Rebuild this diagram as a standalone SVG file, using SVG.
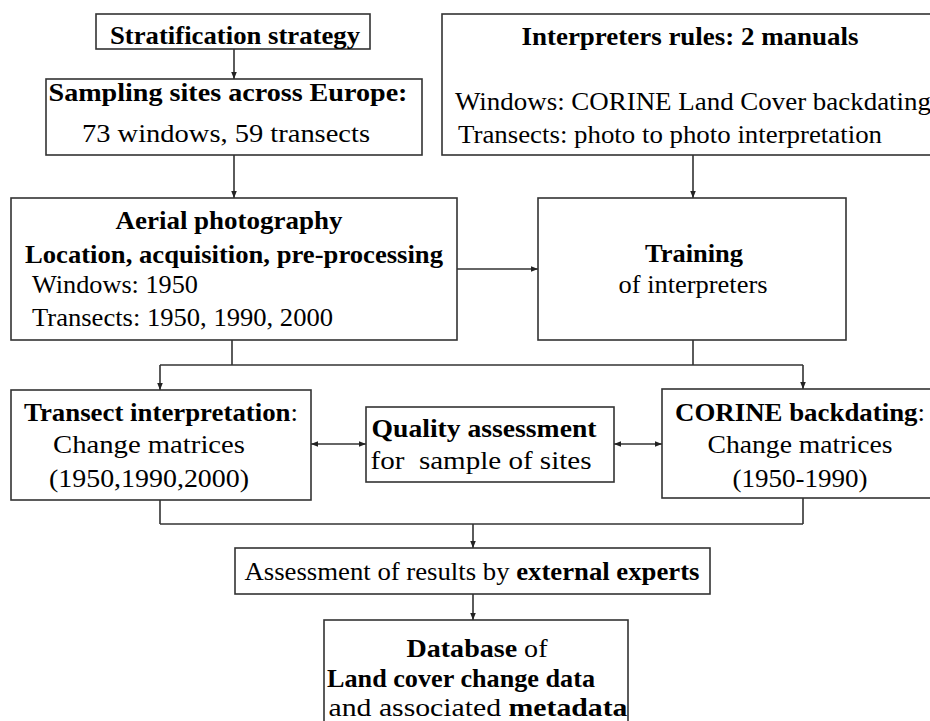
<svg xmlns="http://www.w3.org/2000/svg" width="930" height="721" viewBox="0 0 930 721" font-family="'Liberation Serif', 'Times New Roman', 'DejaVu Serif', serif">
<style>
.box{fill:#fff;stroke:#333;stroke-width:1.6}
.ln{fill:none;stroke:#333;stroke-width:1.6}
.t{font-family:'Liberation Serif','Times New Roman','DejaVu Serif',serif;font-size:25px;fill:#000}
.b{font-weight:bold}
.c{text-anchor:middle}
</style>
<defs>
<marker id="ah" viewBox="0 0 10 10" refX="10" refY="5" markerWidth="7" markerHeight="7" markerUnits="userSpaceOnUse" orient="auto-start-reverse">
<path d="M0,1 L10,5 L0,9 z" fill="#222"/>
</marker>
</defs>
<rect width="930" height="721" fill="#fff"/>
<g id="connectors">
<line class="ln" x1="234" y1="49" x2="234" y2="79" marker-end="url(#ah)"/>
<line class="ln" x1="234" y1="155" x2="234" y2="198" marker-end="url(#ah)"/>
<line class="ln" x1="693" y1="155" x2="693" y2="198" marker-end="url(#ah)"/>
<line class="ln" x1="457" y1="269" x2="538" y2="269" marker-end="url(#ah)"/>
<line class="ln" x1="232" y1="340" x2="232" y2="365"/>
<line class="ln" x1="693" y1="340" x2="693" y2="365"/>
<line class="ln" x1="160" y1="365" x2="803" y2="365"/>
<line class="ln" x1="160" y1="365" x2="160" y2="390" marker-end="url(#ah)"/>
<line class="ln" x1="803" y1="365" x2="803" y2="389" marker-end="url(#ah)"/>
<line class="ln" x1="311" y1="444" x2="366" y2="444" marker-start="url(#ah)" marker-end="url(#ah)"/>
<line class="ln" x1="614" y1="444" x2="662" y2="444" marker-start="url(#ah)" marker-end="url(#ah)"/>
<line class="ln" x1="160" y1="500" x2="160" y2="524"/>
<line class="ln" x1="803" y1="498" x2="803" y2="524"/>
<line class="ln" x1="160" y1="524" x2="803" y2="524"/>
<line class="ln" x1="473" y1="524" x2="473" y2="548" marker-end="url(#ah)"/>
<line class="ln" x1="473" y1="594" x2="473" y2="620" marker-end="url(#ah)"/>
</g>
<g id="stratification">
<rect class="box" x="96" y="14" width="274" height="35"/>
<text class="t b c" x="235" y="44" textLength="250" lengthAdjust="spacingAndGlyphs">Stratification strategy</text>
</g>
<g id="sampling">
<rect class="box" x="46" y="79" width="376" height="76"/>
<text class="t b c" x="228" y="101" textLength="359" lengthAdjust="spacingAndGlyphs">Sampling sites across Europe:</text>
<text class="t c" x="226" y="142" textLength="288" lengthAdjust="spacingAndGlyphs">73 windows, 59 transects</text>
</g>
<g id="interpreters">
<rect class="box" x="442" y="14" width="500" height="141"/>
<text class="t b c" x="690" y="45" textLength="337" lengthAdjust="spacingAndGlyphs">Interpreters rules: 2 manuals</text>
<text class="t" x="455" y="110" textLength="476" lengthAdjust="spacingAndGlyphs">Windows: CORINE Land Cover backdating</text>
<text class="t" x="458" y="143" textLength="424" lengthAdjust="spacingAndGlyphs">Transects: photo to photo interpretation</text>
</g>
<g id="aerial">
<rect class="box" x="11" y="198" width="446" height="142"/>
<text class="t b c" x="229" y="229" textLength="227" lengthAdjust="spacingAndGlyphs">Aerial photography</text>
<text class="t b c" x="234" y="263" textLength="418" lengthAdjust="spacingAndGlyphs">Location, acquisition, pre-processing</text>
<text class="t" x="32" y="293" textLength="166" lengthAdjust="spacingAndGlyphs">Windows: 1950</text>
<text class="t" x="32" y="326" textLength="301" lengthAdjust="spacingAndGlyphs">Transects: 1950, 1990, 2000</text>
</g>
<g id="training">
<rect class="box" x="538" y="198" width="308" height="142"/>
<text class="t b c" x="694" y="262" textLength="98" lengthAdjust="spacingAndGlyphs">Training</text>
<text class="t c" x="693" y="293" textLength="149" lengthAdjust="spacingAndGlyphs">of interpreters</text>
</g>
<g id="transect">
<rect class="box" x="11" y="390" width="300" height="110"/>
<text class="t c" x="161" y="421" textLength="274" lengthAdjust="spacingAndGlyphs"><tspan class="b">Transect interpretation</tspan>:</text>
<text class="t c" x="149" y="453" textLength="192" lengthAdjust="spacingAndGlyphs">Change matrices</text>
<text class="t c" x="149" y="487" textLength="200" lengthAdjust="spacingAndGlyphs">(1950,1990,2000)</text>
</g>
<g id="quality">
<rect class="box" x="366" y="407" width="248" height="75"/>
<text class="t b c" x="484" y="437" textLength="225" lengthAdjust="spacingAndGlyphs">Quality assessment</text>
<text class="t c" x="481" y="469" textLength="221" lengthAdjust="spacingAndGlyphs" xml:space="preserve">for  sample of sites</text>
</g>
<g id="corine">
<rect class="box" x="662" y="389" width="280" height="109"/>
<text class="t c" x="800" y="421" textLength="250" lengthAdjust="spacingAndGlyphs"><tspan class="b">CORINE backdating</tspan>:</text>
<text class="t c" x="800" y="453" textLength="185" lengthAdjust="spacingAndGlyphs">Change matrices</text>
<text class="t c" x="800" y="487" textLength="135" lengthAdjust="spacingAndGlyphs">(1950-1990)</text>
</g>
<g id="assessment">
<rect class="box" x="235" y="548" width="475" height="46"/>
<text class="t c" x="472" y="580" textLength="455" lengthAdjust="spacingAndGlyphs">Assessment of results by <tspan class="b">external experts</tspan></text>
</g>
<g id="database">
<rect class="box" x="324" y="620" width="304" height="120"/>
<text class="t c" x="477" y="657" textLength="141" lengthAdjust="spacingAndGlyphs"><tspan class="b">Database</tspan> of</text>
<text class="t b c" x="461" y="687" textLength="268" lengthAdjust="spacingAndGlyphs">Land cover change data</text>
<text class="t c" x="478" y="716" textLength="299" lengthAdjust="spacingAndGlyphs">and associated <tspan class="b">metadata</tspan></text>
</g>
</svg>
